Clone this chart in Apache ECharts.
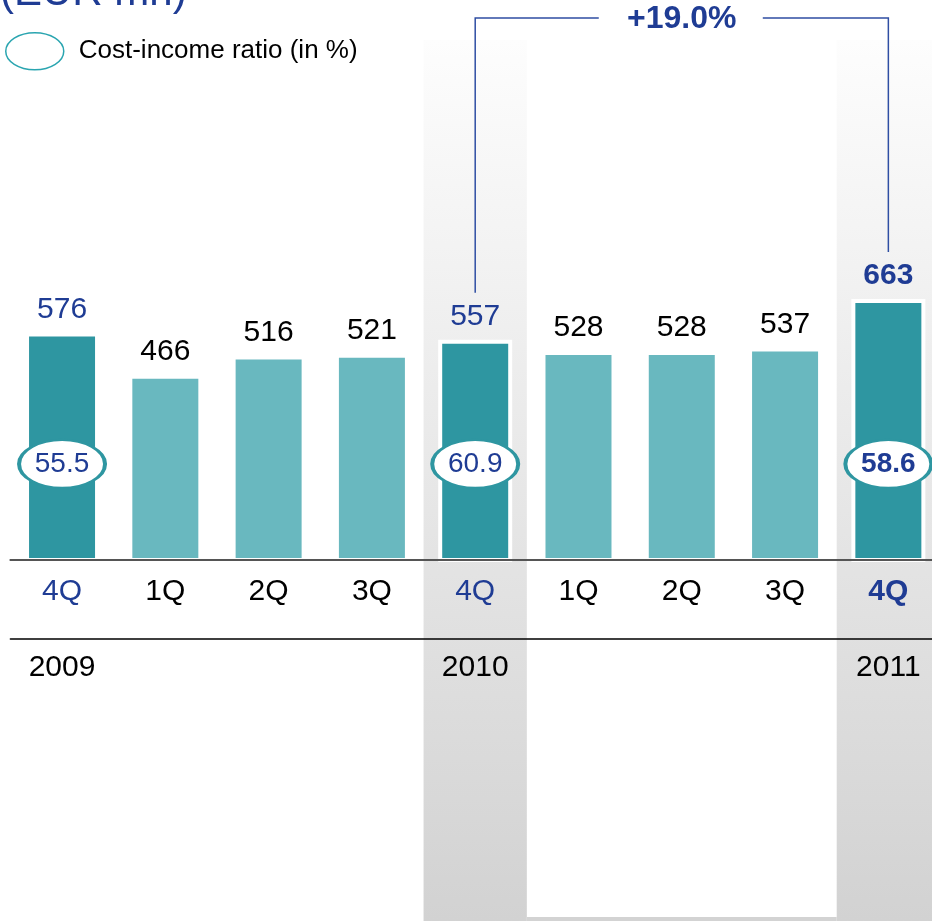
<!DOCTYPE html>
<html>
<head>
<meta charset="utf-8">
<script src="https://cdn.jsdelivr.net/npm/echarts@6/dist/echarts.min.js"></script>
<style>
  html, body { margin: 0; padding: 0; background: #ffffff; overflow: hidden; }
  #chart { width: 940px; height: 921px; }
</style>
</head>
<body>
<div id="chart"></div>
<script>
// Operating income by quarter (EUR mn) with cost-income ratio at year end
const quarters = ['4Q', '1Q', '2Q', '3Q', '4Q', '1Q', '2Q', '3Q', '4Q'];
const yearLabels = ['2009', '', '', '', '2010', '', '', '', '2011'];
const operatingIncome = [576, 466, 516, 521, 557, 528, 528, 537, 663];
const costIncomeRatio = [55.5, null, null, null, 60.9, null, null, null, 58.6];
const comparedQuarters = [4, 8];
const growthLabel = '+19.0%';
const unitLabel = '(EUR mn)';
const legendLabel = 'Cost-income ratio (in %)';

const FONT = '"Liberation Sans", Arial, sans-serif';
const BLUE = '#1f3c94';
const LINE_BLUE = '#2f4ea3';
const DARK = '#2e96a1';
const LIGHT = '#69b8bf';
const ELLIPSE = 'path://M0,50A50,50,0,1,1,100,50A50,50,0,1,1,0,50Z';
const Y_MIN = -944;
const Y_MAX = 1347;
const lastIdx = quarters.length - 1;
const isYearEnd = i => quarters[i] === '4Q';

const chart = echarts.init(document.getElementById('chart'), null, { renderer: 'canvas' });

const quarterAxisData = quarters.map((q, i) => ({
  value: q,
  textStyle: {
    color: isYearEnd(i) ? BLUE : '#000000',
    fontWeight: i === lastIdx ? 'bold' : 'normal'
  }
}));

const incomeData = operatingIncome.map((v, i) => ({
  value: v,
  itemStyle: { color: isYearEnd(i) ? DARK : LIGHT },
  label: {
    color: isYearEnd(i) ? BLUE : '#000000',
    fontWeight: i === lastIdx ? 'bold' : 'normal'
  }
}));

// white halo behind the two compared bars
const frameData = comparedQuarters.map(i => [i, operatingIncome[i]]);

const ratioData = costIncomeRatio.map((r, i) => r == null ? '-' : {
  value: 0,
  label: { fontWeight: i === lastIdx ? 'bold' : 'normal' }
});

const option = {
  animation: false,
  backgroundColor: '#ffffff',
  textStyle: { fontFamily: FONT },
  grid: { left: 10.4, right: 0, top: 40, bottom: 0, containLabel: false },
  legend: {
    show: true,
    left: 5,
    top: 32,
    padding: 0,
    itemWidth: 58,
    itemHeight: 37,
    symbolKeepAspect: false,
    selectedMode: false,
    data: [{ name: legendLabel, icon: ELLIPSE }],
    itemStyle: { color: '#ffffff', borderColor: '#2aa5b0', borderWidth: 1.5 },
    formatter: name => '{t|' + name + '}',
    textStyle: {
      fontFamily: FONT, fontSize: 26, color: '#000000',
      rich: { t: { fontFamily: FONT, fontSize: 26, color: '#000000', padding: [0, 0, 0, 10] } }
    }
  },
  xAxis: [
    {
      type: 'category',
      data: quarterAxisData,
      position: 'bottom',
      offset: -361,
      z: 4,
      axisLine: { onZero: false, lineStyle: { color: '#555555', width: 2 } },
      axisTick: { show: false },
      axisLabel: { interval: 0, fontFamily: FONT, fontSize: 30, margin: 17 }
    },
    {
      type: 'category',
      data: yearLabels,
      position: 'bottom',
      offset: -282,
      z: 4,
      axisLine: { onZero: false, lineStyle: { color: '#000000', width: 1.5 } },
      axisTick: { show: false },
      axisLabel: { interval: 0, fontFamily: FONT, fontSize: 30, color: '#000000', margin: 14 }
    }
  ],
  yAxis: { type: 'value', min: Y_MIN, max: Y_MAX, show: false, splitLine: { show: false } },
  series: [
    {
      name: 'frame',
      type: 'custom',
      xAxisIndex: 0,
      silent: true,
      z: 1,
      renderItem: (params, api) => {
        const top = api.coord([api.value(0), api.value(1)]);
        const base = api.coord([api.value(0), 0]);
        return {
          type: 'rect',
          shape: { x: top[0] - 37, y: top[1] - 4, width: 74, height: base[1] - top[1] + 8 },
          style: { fill: '#ffffff' }
        };
      },
      data: frameData
    },
    {
      name: 'Operating income',
      type: 'bar',
      xAxisIndex: 0,
      barWidth: 66,
      z: 2,
      label: {
        show: true,
        position: 'top',
        distance: 12,
        fontFamily: FONT,
        fontSize: 30
      },
      data: incomeData
    },
    {
      name: legendLabel,
      type: 'scatter',
      xAxisIndex: 0,
      z: 5,
      symbol: ELLIPSE,
      symbolSize: [86, 48],
      symbolOffset: [0, -94],
      itemStyle: { color: '#ffffff', borderColor: DARK, borderWidth: 3, opacity: 1 },
      label: {
        show: true,
        position: 'inside',
        fontFamily: FONT,
        fontSize: 28,
        color: BLUE,
        formatter: p => costIncomeRatio[p.dataIndex].toFixed(1)
      },
      data: ratioData
    }
  ]
};

chart.setOption(option);

// Background bands, growth bracket and unit caption, placed through the axis scales
const toPx = (i, v) => chart.convertToPixel({ xAxisIndex: 0, yAxisIndex: 0 }, [i, v]);
const bandW = toPx(1, 0)[0] - toPx(0, 0)[0];
const topY = toPx(0, Y_MAX)[1];
const bottomY = toPx(0, Y_MIN)[1];
const bandFill = new echarts.graphic.LinearGradient(0, 0, 0, 1, [
  { offset: 0, color: '#fdfdfd' },
  { offset: 1, color: '#d2d2d2' }
]);

const graphics = [];
comparedQuarters.forEach(i => {
  const cx = toPx(i, 0)[0];
  graphics.push({
    type: 'rect', z: -10, silent: true,
    shape: { x: cx - bandW / 2, y: topY, width: bandW, height: bottomY - topY },
    style: { fill: bandFill }
  });
});
const gapLeft = toPx(comparedQuarters[0], 0)[0] + bandW / 2;
const gapRight = toPx(comparedQuarters[1], 0)[0] - bandW / 2;
graphics.push({
  type: 'rect', z: -10, silent: true,
  shape: { x: gapLeft, y: bottomY - 4, width: gapRight - gapLeft, height: 4 },
  style: { fill: '#d3d3d3' }
});

const [a, b] = comparedQuarters;
const pa = toPx(a, operatingIncome[a]);
const pb = toPx(b, operatingIncome[b]);
const bracketY = 18;
const mid = (pa[0] + pb[0]) / 2;
graphics.push({
  type: 'polyline', z: 10, silent: true,
  shape: { points: [[pa[0], pa[1] - 51], [pa[0], bracketY], [mid - 83, bracketY]] },
  style: { stroke: LINE_BLUE, lineWidth: 1.5, fill: null }
});
graphics.push({
  type: 'polyline', z: 10, silent: true,
  shape: { points: [[mid + 81, bracketY], [pb[0], bracketY], [pb[0], pb[1] - 51]] },
  style: { stroke: LINE_BLUE, lineWidth: 1.5, fill: null }
});
graphics.push({
  type: 'text', z: 10, silent: true,
  x: mid, y: bracketY + 1,
  style: {
    text: growthLabel, fill: BLUE, font: 'bold 32px ' + FONT,
    textAlign: 'center', textVerticalAlign: 'middle'
  }
});
graphics.push({
  type: 'text', z: 10, silent: true,
  x: 0, y: 14,
  style: {
    text: unitLabel, fill: BLUE, font: '42px ' + FONT,
    textAlign: 'left', textVerticalAlign: 'bottom'
  }
});

chart.setOption({ graphic: graphics });
</script>
</body>
</html>
